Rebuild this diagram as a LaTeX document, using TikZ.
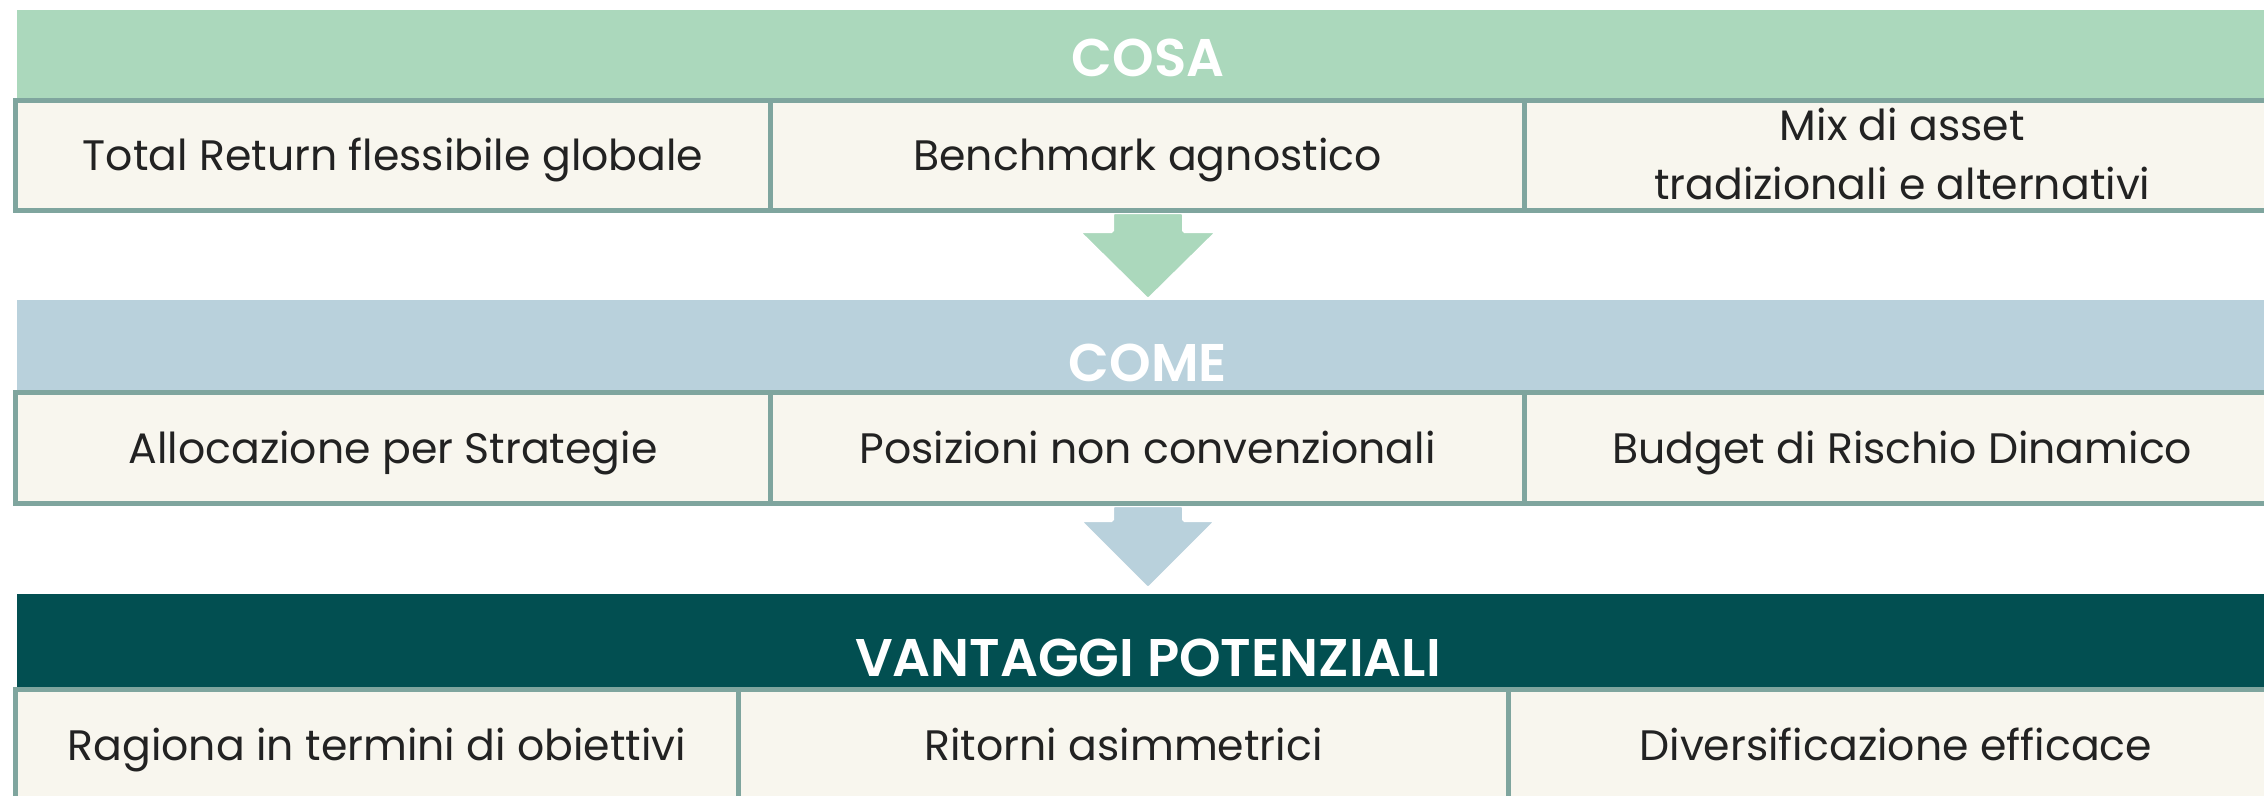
\documentclass[tikz,border=0pt]{standalone}
\usepackage{fontspec}
\setmainfont{Poppins}
\newfontfamily\hdfont{Poppins SemiBold}
\usetikzlibrary{calc}
\definecolor{cosa}{HTML}{ABD8BC}
\definecolor{come}{HTML}{B9D1DC}
\definecolor{vant}{HTML}{024F51}
\definecolor{cellbg}{HTML}{F8F6EE}
\definecolor{bord}{HTML}{7FA59E}
\definecolor{ink}{HTML}{222222}
\begin{document}
\begin{tikzpicture}[x=1pt,y=-1pt,
  band/.style={rectangle, inner sep=0pt, outer sep=0pt, minimum width=2263pt, anchor=north west},
  cell/.style={rectangle, draw=bord, line width=5pt, fill=cellbg, inner sep=0pt, outer sep=0pt},
  cellt/.style={anchor=base, text=ink, inner sep=0pt, align=center, font=\fontsize{42.6}{59}\selectfont},
  head/.style={anchor=base, text=white, inner sep=0pt, font=\hdfont\fontsize{53}{60}\selectfont},
  bigarrow/.style={draw=white, line width=2pt, rounded corners=1.5pt}]
\useasboundingbox (0,0) rectangle (2264,795);
\clip (0,0) rectangle (2264,795);
\fill[white] (0,0) rectangle (2264,795);
% bands
\node[band, fill=cosa, minimum height=90pt] (b1) at (17,10) {};
\node[band, fill=come, minimum height=92pt] (b2) at (17,300) {};
\node[band, fill=vant, minimum height=96pt] (b3) at (17,594) {};
\node[head] (h1) at (1148,76) {COSA};
\node[head] (h2) at (1148,381) {COME};
\node[head] (h3) at (1148,676) {VANTAGGI POTENZIALI};
% arrow start points under the tables
\coordinate (a1top) at (1148,213);
\coordinate (a2top) at (1148,506);
% arrows
\fill[cosa, bigarrow] ($(a1top)+(-35,0)$) -- ($(a1top)+(-35,19)$) -- ($(a1top)+(-68,19)$)
  -- ($(b2.north -| a1top)+(0,-1)$) -- ($(a1top)+(68,19)$) -- ($(a1top)+(35,19)$) -- ($(a1top)+(35,0)$) -- cycle;
\fill[come, bigarrow] ($(a2top)+(-35,0)$) -- ($(a2top)+(-35,15)$) -- ($(a2top)+(-67,15)$)
  -- ($(b3.north -| a2top)+(0,-6)$) -- ($(a2top)+(67,15)$) -- ($(a2top)+(35,15)$) -- ($(a2top)+(35,0)$) -- cycle;
% table 1
\node[cell, minimum width=755pt, minimum height=110pt] (c11) at (393,155.5) {};
\node[cell, minimum width=754pt, minimum height=110pt] (c12) at (1147.5,155.5) {};
\node[cell, minimum width=755.5pt, minimum height=110pt] (c13) at (1902.25,155.5) {};
% table 2
\node[cell, minimum width=755pt, minimum height=111pt] (c21) at (393,448) {};
\node[cell, minimum width=754pt, minimum height=111pt] (c22) at (1147.5,448) {};
\node[cell, minimum width=755.5pt, minimum height=111pt] (c23) at (1902.25,448) {};
% table 3
\node[cell, minimum width=723pt, minimum height=111pt] (c31) at (377,745) {};
\node[cell, minimum width=770pt, minimum height=111pt] (c32) at (1123.5,745) {};
\node[cell, minimum width=774.5pt, minimum height=111pt] (c33) at (1895.75,745) {};
% texts
\node[cellt] (t11) at (c11.center |- 0,170) {Total Return flessibile globale};
\node[cellt] (t12) at (c12.center |- 0,170) {Benchmark agnostico};
\node[cellt] (t13a) at (c13.center |- 0,140) {Mix di asset};
\node[cellt] (t13b) at (c13.center |- 0,199) {tradizionali e alternativi};
\node[cellt] (t21) at (c21.center |- 0,463) {Allocazione per Strategie};
\node[cellt] (t22) at (c22.center |- 0,463) {Posizioni non convenzionali};
\node[cellt] (t23) at (c23.center |- 0,463) {Budget di Rischio Dinamico};
\node[cellt] (t31) at (c31.center |- 0,760) {Ragiona in termini di obiettivi};
\node[cellt] (t32) at (c32.center |- 0,760) {Ritorni asimmetrici};
\node[cellt] (t33) at (c33.center |- 0,760) {Diversificazione efficace};
\end{tikzpicture}
\end{document}
